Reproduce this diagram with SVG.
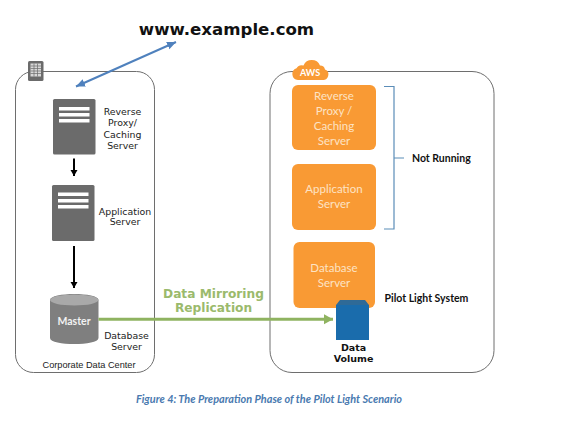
<svg xmlns="http://www.w3.org/2000/svg" width="574" height="432" viewBox="0 0 574 432">
<style>
.box{fill:none;stroke:#6e6e6e;stroke-width:1}
.srv{fill:#6b6b6b}
.bar{fill:#fff}
.lbl{font-family:"DejaVu Sans",sans-serif;font-size:9.4px;fill:#222;text-anchor:middle}
.orange{fill:#f99a34}
.ot{font-family:"Lato","Open Sans",sans-serif;font-size:11.5px;fill:#fde3c4;text-anchor:middle}
.bt{font-family:"Lato","Open Sans",sans-serif;font-size:10.5px;font-weight:700;fill:#111}
.dv{font-family:"DejaVu Sans",sans-serif;font-size:9.5px;font-weight:700;fill:#111;text-anchor:middle}
.gt{font-family:"DejaVu Sans",sans-serif;font-size:12.2px;font-weight:700;fill:#9bba6c;text-anchor:middle}
</style>
<defs>
<marker id="ab" markerUnits="userSpaceOnUse" markerWidth="10" markerHeight="9" refX="9" refY="4" orient="auto-start-reverse"><path d="M0 0L9 4L0 8z" fill="#4f81bd"/></marker>
<marker id="ak" markerUnits="userSpaceOnUse" markerWidth="8" markerHeight="8" refX="6" refY="3.500" orient="auto"><path d="M0 0L6 3.500L0 7z" fill="#000"/></marker>
<marker id="ag" markerUnits="userSpaceOnUse" markerWidth="10" markerHeight="11" refX="9" refY="5" orient="auto"><path d="M0 0L9 5L0 10z" fill="#8fb360"/></marker>
</defs>
<rect width="574" height="432" fill="#fff"/>
<g id="corporate-dc">
<rect class="box" x="15.500" y="71.500" width="139" height="301" rx="18"/>
<rect x="28" y="61" width="15.500" height="20" rx="1.500" fill="#6b6b6b"/>
<rect x="30.500" y="63.500" width="10.500" height="13" fill="#d8d8d8"/>
<path d="M34 63.500V76.500M37.500 63.500V76.500M30.500 66H41M30.500 68.500H41M30.500 71H41M30.500 73.500H41" stroke="#6b6b6b" stroke-width=".7"/>
<text x="89" y="368" font-family="Liberation Sans,sans-serif" font-size="9.200" fill="#222" text-anchor="middle">Corporate Data Center</text>
</g>
<g id="reverse-proxy">
<rect class="srv" x="53" y="99" width="42.500" height="55.500" rx="1.500"/>
<rect class="bar" x="59" y="107" width="30.500" height="3.500"/>
<rect class="bar" x="59" y="113" width="30.500" height="3.500"/>
<rect class="bar" x="59" y="119" width="30.500" height="3.500"/>
<text class="lbl"><tspan x="122.500" y="115">Reverse</tspan><tspan x="122.500" y="126">Proxy/</tspan><tspan x="122.500" y="137.500">Caching</tspan><tspan x="122.500" y="149">Server</tspan></text>
</g>
<g id="application">
<rect class="srv" x="52" y="185" width="42.500" height="56" rx="1.500"/>
<rect class="bar" x="58" y="192.500" width="30.500" height="3.500"/>
<rect class="bar" x="58" y="199" width="30.500" height="3.500"/>
<rect class="bar" x="58" y="205" width="30.500" height="3.500"/>
<text class="lbl"><tspan x="125" y="214.500">Application</tspan><tspan x="125" y="225">Server</tspan></text>
</g>
<g id="master-db">
<path d="M50 300C50 292 98.500 292 98.500 300V338C98.500 346 50 346 50 338z" fill="#7f7f7f"/>
<ellipse cx="74.250" cy="300" rx="24.250" ry="5.500" fill="#a9a9a9"/>
<text x="74" y="325" font-family="Lato,Open Sans,sans-serif" font-size="10.500" font-weight="700" fill="#f2f2f2" text-anchor="middle">Master</text>
<text class="lbl"><tspan x="126.500" y="339">Database</tspan><tspan x="126.500" y="349.500">Server</tspan></text>
</g>
<g id="website">
<text x="226.500" y="34.500" font-family="DejaVu Sans,sans-serif" font-size="16.600" font-weight="700" fill="#111" text-anchor="middle">www.example.com</text>
</g>
<g id="aws">
<rect class="box" x="270" y="71.500" width="224" height="301" rx="22"/>
<path d="M298 80A6 6 0 0 1 296.500 68.300A6 6 0 0 1 303.500 65.500A9 9 0 0 1 320 65.500A5 5 0 0 1 325 69.500A5.500 5.500 0 0 1 322 80z" fill="#f99a34"/>
<text x="310" y="76" font-family="Lato,Open Sans,sans-serif" font-size="9" font-weight="700" fill="#fff" text-anchor="middle">AWS</text>
</g>
<g id="aws-proxy">
<rect class="orange" x="292" y="85" width="84" height="65" rx="6"/>
<text class="ot"><tspan x="334" y="100">Reverse</tspan><tspan x="334" y="115">Proxy /</tspan><tspan x="334" y="130">Caching</tspan><tspan x="334" y="145">Server</tspan></text>
</g>
<g id="aws-app">
<rect class="orange" x="292" y="164" width="84" height="66" rx="6"/>
<text class="ot"><tspan x="334" y="193">Application</tspan><tspan x="334" y="208">Server</tspan></text>
</g>
<g id="aws-db">
<rect class="orange" x="293.500" y="242" width="81.500" height="66" rx="6"/>
<text class="ot"><tspan x="334" y="272">Database</tspan><tspan x="334" y="287">Server</tspan></text>
</g>
<g id="data-volume">
<path d="M336 305L340 300H365L369 305z" fill="#2f6a97"/>
<rect x="336" y="305" width="33" height="35" fill="#1a6cac"/>
<text class="dv"><tspan x="353.500" y="351">Data</tspan><tspan x="353.500" y="362">Volume</tspan></text>
</g>
<g id="labels">
<text class="bt" x="412" y="162">Not Running</text>
<text class="bt" x="384.500" y="302">Pilot Light System</text>
<text class="gt"><tspan x="213.500" y="297.500">Data Mirroring</tspan><tspan x="213.500" y="312">Replication</tspan></text>
<text x="269" y="403" font-family="Lato,Open Sans,sans-serif" font-size="10.900" font-weight="700" font-style="italic" fill="#4a7ab0" text-anchor="middle">Figure 4: The Preparation Phase of the Pilot Light Scenario</text>
</g>
<g id="connectors" fill="none">
<path d="M76 86.500L176 42" stroke="#4f81bd" stroke-width="2" marker-start="url(#ab)" marker-end="url(#ab)"/>
<path d="M74 158.500V176" stroke="#000" stroke-width="2" marker-end="url(#ak)"/>
<path d="M74 246V288" stroke="#000" stroke-width="2" marker-end="url(#ak)"/>
<path d="M98.500 319.300H333" stroke="#8fb360" stroke-width="3" marker-end="url(#ag)"/>
<path d="M384 86.500H394V229H384M394 158H404" stroke="#5b8db8" stroke-width="1.200"/>
</g>
</svg>
